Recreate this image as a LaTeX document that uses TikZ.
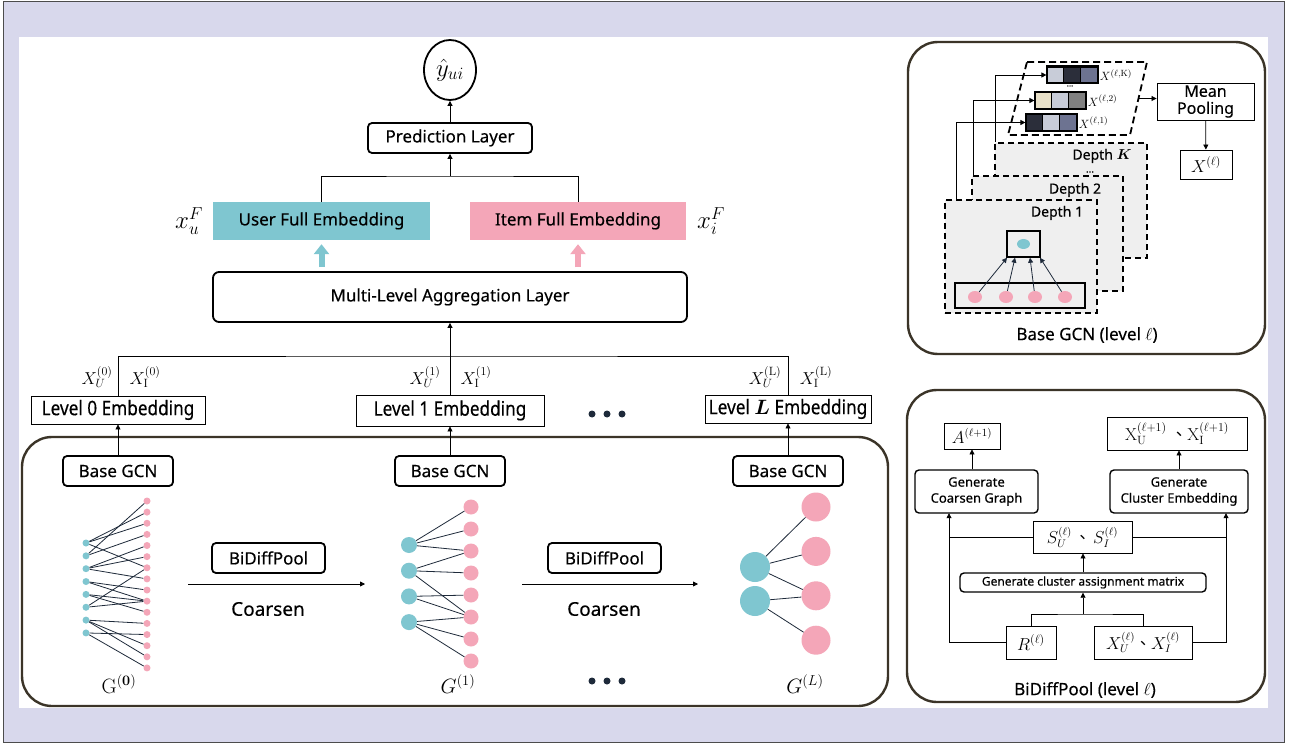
\documentclass[tikz,border=0pt]{standalone}
\usepackage[no-math]{fontspec}
\usepackage{bm}
\setmainfont[FakeBold=0.3]{Noto Sans}
\newfontfamily\narrow[FakeStretch=0.86,FakeBold=0.3]{Noto Sans}
\newfontfamily\cjk{Noto Sans CJK TC}
\usetikzlibrary{arrows.meta,shapes.geometric,calc}

\definecolor{bgc}{HTML}{D8D8EC}
\definecolor{userc}{HTML}{7FC6D0}
\definecolor{itemc}{HTML}{F4A6B8}
\definecolor{panelc}{HTML}{3B3428}
\definecolor{edgec}{HTML}{1E2A3A}
\definecolor{depthc}{HTML}{EFEFEF}
\definecolor{cellA}{HTML}{C8CCD8}
\definecolor{cellB}{HTML}{2B2E3A}
\definecolor{cellC}{HTML}{6D7391}
\definecolor{cellD}{HTML}{E8E0C8}
\definecolor{cellE}{HTML}{808080}

\tikzset{
  conn/.style={line width=0.8pt},
  arr/.style={conn,-{Triangle[width=5pt,length=5pt]}},
  panel/.style={draw=panelc,line width=2.4pt,rounded corners=30pt},
  thickbox/.style={draw,line width=1.8pt,rounded corners=4pt,inner sep=0pt,font=\fontsize{17}{20}\selectfont},
  thinbox/.style={draw,line width=0.9pt,inner sep=0pt},
  smallbox/.style={draw,line width=1.4pt,rounded corners=4pt,inner sep=0pt,align=center,font=\fontsize{13}{16}\selectfont},
  lab/.style={inner sep=0pt,font=\fontsize{18}{20}\selectfont},
  udot/.style={circle,fill=userc,inner sep=0pt},
  idot/.style={circle,fill=itemc,inner sep=0pt},
  gedge/.style={edgec,line width=0.8pt},
  depthbox/.style={draw,line width=1.8pt,dash pattern=on 6pt off 4pt,fill=depthc,inner sep=0pt},
  cell/.style={draw,line width=1.2pt,minimum width=16.7pt,minimum height=16pt,inner sep=0pt},
}

\begin{document}
\begin{tikzpicture}[x=1pt,y=-1pt]
\useasboundingbox (0,0) rectangle (1296,746);
\draw[fill=bgc,draw=black!70,line width=1pt] (3,2) rectangle (1284,742);
\fill[white] (19,37) rectangle (1268,708);

% prediction part
\node[draw,ellipse,line width=1.8pt,minimum width=52pt,minimum height=60pt,inner sep=0pt,font=\fontsize{24}{26}\selectfont] (yhat) at (450,70) {$\hat{y}_{ui}$};
\node[thickbox,minimum width=164pt,minimum height=30pt] (pred) at (450,138) {Prediction Layer};
\node[fill=userc,minimum width=217pt,minimum height=38pt,inner sep=0pt,font=\fontsize{17}{20}\selectfont] (user) at (321.5,221) {User Full Embedding};
\node[fill=itemc,minimum width=216pt,minimum height=38pt,inner sep=0pt,font=\fontsize{17}{20}\selectfont] (item) at (578,221) {Item Full Embedding};
\node[lab,font=\fontsize{23}{26}\selectfont] (xuF) at (189,221) {$x_u^F$};
\node[lab,font=\fontsize{23}{26}\selectfont] (xiF) at (711,221) {$x_i^F$};
\node[thickbox,minimum width=474pt,minimum height=50pt,rounded corners=6pt] (agg) at (450,297) {Multi-Level Aggregation Layer};

\coordinate (predin) at (450,176);
\draw[conn] (user.north) |- (predin) -| (item.north);
\draw[arr] (predin) -- (pred.south);
\draw[arr] (pred.north) -- (yhat.south);
\draw[line width=6pt,userc,-{Triangle[width=15pt,length=10pt]},shorten <=4pt,shorten >=4pt] (agg.north -| user) -- (user.south);
\draw[line width=6pt,itemc,-{Triangle[width=15pt,length=10pt]},shorten <=4pt,shorten >=4pt] (agg.north -| item) -- (item.south);

% level embeddings
\node[thinbox,minimum width=174pt,minimum height=28pt,font=\narrow\fontsize{20}{22}\selectfont] (lev0) at (118,410) {Level \textbf{0} Embedding};
\node[thinbox,minimum width=188pt,minimum height=31pt,font=\narrow\fontsize{20}{22}\selectfont] (lev1) at (450,410.5) {Level \textbf{1} Embedding};
\node[thinbox,minimum width=166pt,minimum height=28pt,font=\narrow\fontsize{20}{22}\selectfont] (levL) at (788,409) {Level $\bm{L}$ Embedding};
\coordinate (aggin) at (450,356);
\draw[conn] (lev0.north) |- (aggin) -| (levL.north);
\draw[conn] (lev1.north) -- (aggin);
\draw[arr] (aggin) -- (agg.south);
\node[lab] (xu0) at (97,377) {$X_U^{(0)}$};
\node[lab] (xi0) at (145,377) {$X_{\mathrm{I}}^{(0)}$};
\node[lab] (xu1) at (425,377) {$X_U^{(1)}$};
\node[lab] (xi1) at (476,377) {$X_{\mathrm{I}}^{(1)}$};
\node[lab] (xuL) at (765,377) {$X_U^{(\mathrm{L})}$};
\node[lab] (xiL) at (816,377) {$X_{\mathrm{I}}^{(\mathrm{L})}$};
\foreach \d in {-15,0,15} \fill[edgec] (607+\d,414) circle (3.5);

% coarsening levels
\draw[panel] (22,437) rectangle (888,706);
\node[thickbox,minimum width=110pt,minimum height=30pt] (gcn0) at (118,471) {Base GCN};
\node[thickbox,minimum width=110pt,minimum height=30pt] (gcn1) at (450,471) {Base GCN};
\node[thickbox,minimum width=110pt,minimum height=30pt] (gcnL) at (788,471) {Base GCN};
\draw[arr] (gcn0.north) -- (lev0.south);
\draw[arr] (gcn1.north) -- (lev1.south);
\draw[arr] (gcnL.north) -- (levL.south);
\node[thickbox,minimum width=113pt,minimum height=30pt] (pool1) at (268.5,558) {BiDiffPool};
\node[thickbox,minimum width=113pt,minimum height=30pt] (pool2) at (604.5,558) {BiDiffPool};
\coordinate (c1s) at (188,584); \coordinate (c1e) at (365,584);
\coordinate (c2s) at (522,584); \coordinate (c2e) at (698,584);
\draw[arr] (c1s) -- (c1e);
\draw[arr] (c2s) -- (c2e);
\node[lab,font=\fontsize{19}{22}\selectfont] (crs1) at (268,609) {Coarsen};
\node[lab,font=\fontsize{19}{22}\selectfont] (crs2) at (604,609) {Coarsen};

% graph 0
\foreach \k in {1,...,8} \node[udot,minimum size=7pt] (a\k) at (86,{543+12.85*(\k-1)}) {};
\foreach \k in {1,...,16} \node[idot,minimum size=7pt] (b\k) at (147,{501+11.13*(\k-1)}) {};
\foreach \s/\t in {1/2,1/3,1/7,2/1,2/4,3/5,3/6,3/8,4/9,4/10,5/10,5/11,6/7,6/10,7/12,7/14,7/15,8/13,8/16}
  \draw[gedge] (a\s) -- (b\t);
% graph 1
\foreach \k in {1,...,4} \node[udot,minimum size=16pt] (c\k) at (409,{545+25.7*(\k-1)}) {};
\foreach \k in {1,...,8} \node[idot,minimum size=15pt] (d\k) at (471,{507+22*(\k-1)}) {};
\foreach \s/\t in {1/1,1/2,1/3,2/3,2/4,2/6,3/5,3/6,4/6,4/7,4/8}
  \draw[gedge] (c\s) -- (d\t);
% graph L
\foreach \k in {1,2} \node[udot,minimum size=30pt] (e\k) at (755,{567+34*(\k-1)}) {};
\foreach \k in {1,...,4} \node[idot,minimum size=29pt] (f\k) at (816,{507+44.4*(\k-1)}) {};
\foreach \s/\t in {1/1,1/2,1/3,2/3,2/4}
  \draw[gedge] (e\s) -- (f\t);
\node[lab,font=\fontsize{22}{24}\selectfont] (g0lab) at (119,684) {$\mathrm{G}^{(\mathbf{0})}$};
\node[lab,font=\fontsize{22}{24}\selectfont] (g1lab) at (458,684) {$G^{(1)}$};
\node[lab,font=\fontsize{22}{24}\selectfont] (gLlab) at (805,684) {$G^{(L)}$};
\foreach \d in {-15,0,15} \fill[edgec] (607+\d,681) circle (3.5);

% Base GCN panel
\draw[panel] (908,42) rectangle (1265,354);
\node[depthbox,minimum width=152pt,minimum height=115pt] (depthK) at (1071,200.5) {};
\node[depthbox,minimum width=151pt,minimum height=115pt] (depth2) at (1047.5,233.5) {};
\node[depthbox,minimum width=152pt,minimum height=113pt] (depth1) at (1021,256.5) {};
\node[lab,font=\fontsize{14}{16}\selectfont] (dKlab) at (1102,156) {Depth $\bm{K}$};
\node[lab,font=\fontsize{10}{11}\selectfont] (dKdots) at (1090,172) {...};
\node[lab,font=\fontsize{14}{16}\selectfont] (d2lab) at (1075,190) {Depth 2};
\node[lab,font=\fontsize{14}{16}\selectfont] (d1lab) at (1057,213) {Depth 1};
\node[draw,line width=1.5pt,minimum width=33pt,minimum height=26pt,inner sep=0pt] (nbox) at (1023.5,244) {};
\node[ellipse,fill=userc,minimum width=13pt,minimum height=10pt,inner sep=0pt] (ctr) at (nbox) {};
\node[draw,line width=1.5pt,minimum width=130pt,minimum height=25pt,inner sep=0pt] (nbr) at (1020,295.5) {};
\foreach \k/\x/\o in {1/975/-16.5,2/1006/-8.5,3/1035/6.5,4/1065/16.5} {
  \node[ellipse,fill=itemc,minimum width=14pt,minimum height=12pt,inner sep=0pt] (n\k) at (\x,297) {};
  \draw[edgec,line width=0.8pt,-{Triangle[width=5pt,length=5pt]}] (n\k) -- ($(nbox.south)+(\o,0)$);
}
\draw[fill=white,line width=1.8pt,dash pattern=on 7pt off 4pt] (1027,62) -- (1147,62) -- (1130,135) -- (1008,135) -- cycle;
\coordinate (parR) at (1138.5,98.5);
\foreach \c [count=\k] in {cellA,cellB,cellC} \node[cell,fill=\c] (bK\k) at ({1047+16.7*\k-8.35},75) {};
\foreach \c [count=\k] in {cellD,cellA,cellE} \node[cell,fill=\c] (bT\k) at ({1035+16.7*\k-8.35},100.5) {};
\foreach \c [count=\k] in {cellB,cellA,cellC} \node[cell,fill=\c] (bO\k) at ({1026+16.7*\k-8.35},122.5) {};
\draw[line width=1.8pt] (bK1.north west) rectangle (bK3.south east);
\draw[line width=1.8pt] (bT1.north west) rectangle (bT3.south east);
\draw[line width=1.8pt] (bO1.north west) rectangle (bO3.south east);
\node[anchor=west,inner sep=2pt,font=\fontsize{13}{14}\selectfont] (xK) at (bK3.east) {$X^{(\ell,\mathrm{K})}$};
\node[anchor=west,inner sep=2pt,font=\fontsize{13}{14}\selectfont] (xT) at (bT3.east) {$X^{(\ell,2)}$};
\node[anchor=west,inner sep=2pt,font=\fontsize{13}{14}\selectfont] (xO) at (bO3.east) {$X^{(\ell,1)}$};
\node[lab,font=\fontsize{8}{10}\selectfont] (bdots) at (1070,86) {...};
\draw[arr] ($(depthK.north west)+(1,0)$) |- (bK1.west);
\draw[arr] ($(depth2.north west)+(2,0)$) |- (bT1.west);
\draw[arr] ($(depth1.north west)+(12,0)$) |- (bO1.west);
\node[draw,line width=0.9pt,minimum width=97pt,minimum height=37pt,inner sep=0pt,align=center,font=\fontsize{16}{17}\selectfont] (mpool) at (1205.5,101.5) {Mean\\Pooling};
\node[draw,line width=0.9pt,minimum width=52pt,minimum height=29pt,inner sep=0pt,font=\fontsize{17}{19}\selectfont] (xl) at (1206,164.5) {$X^{(\ell)}$};
\draw[arr] (parR) -- (parR -| mpool.west);
\draw[arr] (mpool) -- (xl);
\node[lab,font=\fontsize{17}{19}\selectfont] (gcncap) at (1087,335) {Base GCN (level $\ell$)};

% BiDiffPool panel
\draw[panel] (907,390) rectangle (1265,702);
\node[draw,line width=0.9pt,minimum width=56pt,minimum height=26pt,inner sep=0pt,font=\fontsize{16}{18}\selectfont] (abox) at (972,436) {$A^{(\ell+1)}$};
\node[draw,line width=0.9pt,minimum width=140pt,minimum height=33pt,inner sep=0pt,font=\fontsize{16.5}{18}\selectfont] (xnext) at (1177,433.5) {$\mathrm{X}_{\mathrm{U}}^{(\ell+1)}$ {\cjk 、}$\mathrm{X}_{\mathrm{I}}^{(\ell+1)}$};
\node[smallbox,minimum width=123pt,minimum height=43pt] (gcoarse) at (976.5,491.5) {Generate\\Coarsen Graph};
\node[smallbox,minimum width=138pt,minimum height=43pt] (gclust) at (1179,491.5) {Generate\\Cluster Embedding};
\node[draw,line width=0.9pt,minimum width=99pt,minimum height=32pt,inner sep=0pt,font=\fontsize{16}{18}\selectfont] (sbox) at (1082.5,537) {$S_U^{(\ell)}$\,{\cjk 、}\,$S_I^{(\ell)}$};
\node[smallbox,minimum width=246pt,minimum height=19pt,font=\fontsize{12}{14}\selectfont] (gmat) at (1083,582.5) {Generate cluster assignment matrix};
\node[draw,line width=0.9pt,minimum width=50pt,minimum height=33pt,inner sep=0pt,font=\fontsize{18}{20}\selectfont] (rbox) at (1031,642.5) {$R^{(\ell)}$};
\node[draw,line width=0.9pt,minimum width=98pt,minimum height=33pt,inner sep=0pt,font=\fontsize{16}{18}\selectfont] (xbox) at (1143,642.5) {$X_U^{(\ell)}${\cjk 、}$X_I^{(\ell)}$};
\draw[arr] (abox.south |- gcoarse.north) -- (abox.south);
\draw[arr] (gclust.north) -- (gclust.north |- xnext.south);
\draw[arr] (gmat.north) -- (gmat.north |- sbox.south);
\coordinate (rx) at (1083,614);
\draw[conn] (rbox.north) |- (rx) -| (xbox.north);
\draw[arr] (rx) -- (gmat.south);
\coordinate (lft) at (949,513.2);
\coordinate (rgt) at (1226,513.2);
\draw[arr] (rbox.west) -| (lft);
\draw[conn] (sbox.west) -- (sbox.west -| lft);
\draw[arr] (xbox.east) -| (rgt);
\draw[conn] (sbox.east) -- (sbox.east -| rgt);
\node[lab,font=\fontsize{17}{19}\selectfont] (poolcap) at (1085,690) {BiDiffPool (level $\ell$)};
\end{tikzpicture}
\end{document}
